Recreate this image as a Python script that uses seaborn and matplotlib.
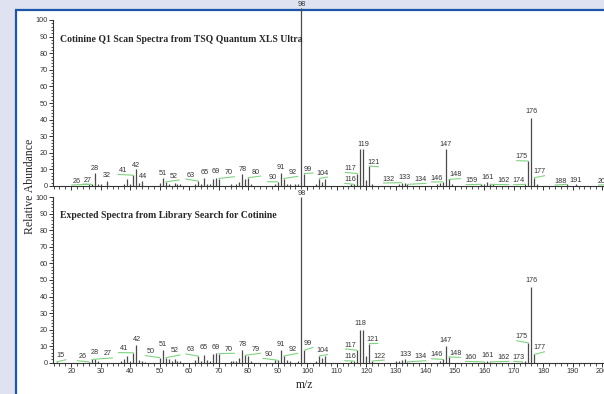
import matplotlib
matplotlib.use("Agg")
import matplotlib.pyplot as plt
import seaborn as sns
import numpy as np
from matplotlib.patches import Rectangle
from matplotlib.ticker import MultipleLocator

# Q1 scan spectrum (top panel): m/z and relative abundance
q1_mz = [26, 27, 28, 29, 30, 32, 38, 39, 40, 41, 42, 43, 44, 50, 51, 52, 53, 55, 56, 57,
         62, 63, 64, 65, 66, 67, 68, 69, 70, 74, 76, 77, 78, 79, 80, 81, 89, 90, 91, 92,
         93, 94, 96, 97, 98, 99, 103, 104, 105, 106, 115, 116, 117, 118, 119, 120, 121, 122,
         131, 132, 133, 134, 144, 145, 146, 147, 148, 149, 159, 160, 161, 162, 163, 174,
         175, 176, 177, 178, 188, 191, 204]
q1_int = [1, 1, 8, 1, 1.5, 3, 1.5, 4, 1.5, 6.5, 10, 2, 3, 2, 5, 2.5, 1.5, 2, 1, 1,
          1.5, 3, 1, 5, 1.5, 1, 4.5, 5, 4.5, 1, 1, 2.5, 7, 4, 5, 1, 1.5, 2.5, 8, 4.5,
          1.5, 1, 1, 1.5, 107, 7.5, 1, 4.5, 2.5, 4, 1, 1, 7.5, 22, 22, 3.5, 12, 1,
          1, 2, 2, 1, 1, 2, 2.5, 22, 4, 1, 1, 1, 2.5, 1, 1, 1,
          15, 41, 5, 1, 1, 1, 1]

# library spectrum (bottom panel)
lib_mz = [15, 26, 27, 28, 29, 37, 38, 39, 40, 41, 42, 43, 44, 45, 50, 51, 52, 53, 54, 55,
          56, 57, 62, 63, 64, 65, 66, 67, 68, 69, 70, 74, 75, 76, 77, 78, 79, 80, 81, 89,
          90, 91, 92, 93, 94, 97, 98, 99, 103, 104, 105, 106, 115, 116, 117, 118, 119, 120,
          121, 122, 130, 131, 132, 133, 134, 145, 146, 147, 148, 160, 161, 162, 173, 174,
          175, 176, 177]
lib_int = [0.5, 0.5, 2, 2.5, 1, 1, 2, 4, 1, 6, 11, 1.5, 1, 0.5, 3, 7.5, 3, 2, 1, 2.5,
           1, 1, 1.5, 4, 1, 4.5, 1.5, 1, 5, 6, 5.5, 1, 1, 1, 3, 7.5, 4.5, 4, 1, 1.5,
           1.5, 7.5, 4, 1.5, 1, 1, 100, 7.5, 1, 4, 3, 4, 1, 1, 7.5, 20, 20, 4,
           11.5, 1, 1, 1, 1.5, 2, 0.5, 1, 2, 10, 3.5, 0.5, 1, 0.5, 0.5, 1,
           12, 46, 5]

# peak label placement: (peak m/z, label x, label y)
q1_labels = [(26, 21.9, 3), (27, 25.7, 3.6), (28, 28.1, 10.6), (32, 32, 6.2), (41, 37.6, 9.4),
             (42, 41.9, 12.6), (44, 44.2, 6), (51, 50.9, 7.8), (52, 54.8, 6), (63, 60.6, 6.6),
             (65, 65.2, 8.4), (69, 69, 8.6), (70, 73.5, 8), (78, 78, 10.2), (80, 82.4, 8.4),
             (90, 88.3, 5), (91, 91, 11.4), (92, 95, 8.2), (98, 98, 109.6), (99, 100.2, 10.2),
             (104, 105.1, 7.8), (116, 114.5, 4), (117, 114.7, 10.6), (119, 119, 25.3),
             (121, 122.4, 14), (132, 127.6, 4.2), (133, 132.9, 5.4), (134, 138.5, 4),
             (146, 143.9, 4.8), (147, 147, 25.3), (148, 150.2, 6.8), (159, 155.6, 3.2),
             (161, 161, 5), (162, 166.6, 3.2), (174, 171.8, 3.2), (175, 172.8, 17.7),
             (176, 175.9, 44.6), (177, 178.7, 8.6), (188, 185.8, 3), (191, 191, 3.6),
             (204, 200.6, 3)]
lib_labels = [(15, 16.4, 4.2), (26, 23.8, 3.6), (28, 28, 5.9), (27, 32.2, 5.3), (41, 37.8, 8.5),
              (42, 42.4, 14.1), (50, 46.9, 6.7), (51, 51, 11.3), (52, 55.1, 7.1), (63, 60.6, 7.7),
              (65, 65, 9), (69, 69, 9), (70, 73.5, 8.1), (78, 78, 11.1), (79, 82.4, 8.1),
              (90, 86.8, 5), (91, 91, 11.1), (92, 95, 8.1), (98, 98, 102.5), (99, 100.2, 11.7),
              (104, 105.1, 7.3), (116, 114.5, 3.6), (117, 114.7, 10.7), (118, 118, 23.4),
              (121, 122.2, 14.1), (122, 124.4, 4), (133, 133.2, 5), (134, 138.5, 3.6),
              (146, 143.9, 4.8), (147, 147, 13.3), (148, 150.2, 5.6), (160, 155.5, 3.2),
              (161, 161, 4.6), (162, 166.6, 3.2), (173, 171.8, 3.2), (175, 172.8, 15.7),
              (176, 176, 49.4), (177, 178.7, 9)]

titles = ["Cotinine Q1 Scan Spectra from TSQ Quantum XLS Ultra",
          "Expected Spectra from Library Search for Cotinine"]

sns.set_style("ticks")
plt.rcParams['font.family'] = ['Liberation Sans', 'DejaVu Sans']

W, H = 604, 394
fig = plt.figure(figsize=(W / 100, H / 100), dpi=100, facecolor='#dee2f1')
fig.patches.append(Rectangle((16 / W, -0.1), 1.2, 1.1 - 10 / H, transform=fig.transFigure,
                             facecolor='white', edgecolor='#1d56a9', lw=1.6, zorder=-5))

px_per_unit = 2.949
x0 = 13.9
ax_w = 570
xlim = (x0, x0 + ax_w / px_per_unit)

ax_top = fig.add_axes([53.3 / W, (H - 186) / H, ax_w / W, 166 / H])
ax_bot = fig.add_axes([53.3 / W, (H - 362.7) / H, ax_w / W, 165.4 / H])


def draw_spectrum(ax, mz, inten, labels, title, title_y):
    ax.patch.set_visible(False)
    heights = dict(zip(mz, inten))
    ax.vlines(mz, 0, inten, color='#4a4a4a', lw=0.9, clip_on=False)
    for m, lx, ly in labels:
        h = heights[m]
        ax.text(lx, ly, str(m), ha='center', va='center', fontsize=5.2, color='#333333',
                clip_on=False)
        if abs(lx - m) > 0.8:
            far = lx + 1.8 * np.sign(lx - m)
            ax.plot([far, m], [ly - 2.4, h], color='#7fd47f', lw=0.8, clip_on=False)
    ax.set_xlim(*xlim)
    ax.set_ylim(0, 100)
    ax.yaxis.set_major_locator(MultipleLocator(10))
    ax.yaxis.set_minor_locator(MultipleLocator(2))
    ax.xaxis.set_major_locator(MultipleLocator(10))
    ax.xaxis.set_minor_locator(MultipleLocator(2))
    ax.tick_params(axis='both', which='major', length=3, width=0.7, color='#333333',
                   labelsize=5.3, labelcolor='#333333', pad=1)
    ax.tick_params(axis='both', which='minor', length=1.8, width=0.6, color='#333333')
    for s in ['left', 'bottom']:
        ax.spines[s].set_color('#333333')
        ax.spines[s].set_linewidth(0.8)
    sns.despine(ax=ax)
    ax.text(0.012, title_y, title, transform=ax.transAxes,
            fontsize=7.0, fontweight='bold', family='Liberation Serif', va='center')


draw_spectrum(ax_top, q1_mz, q1_int, q1_labels, titles[0], 0.88)
ax_top.tick_params(axis='x', labelbottom=False)
draw_spectrum(ax_bot, lib_mz, lib_int, lib_labels, titles[1], 0.887)

fig.text(30 / W, 1 - 186 / H, 'Relative Abundance', rotation=90, ha='center', va='center',
         fontsize=8.5, family='Liberation Serif')
fig.text(305 / W, 1 - 385 / H, 'm/z', ha='center', va='center', fontsize=8.5,
         family='Liberation Serif')

fig.savefig('out.png', dpi=100, facecolor=fig.get_facecolor())
